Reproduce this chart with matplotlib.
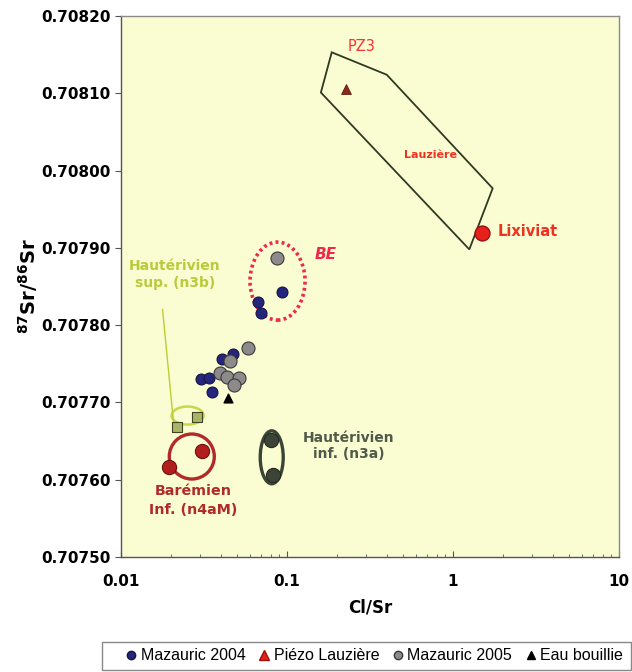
import numpy as np
import matplotlib
matplotlib.use("Agg")
import matplotlib.pyplot as plt
import matplotlib.transforms as mtransforms
from matplotlib.patches import Ellipse, Polygon, Rectangle
from matplotlib.lines import Line2D

# ---- data ----
maz2004_x = [0.0929, 0.0671, 0.0694, 0.0475, 0.0404, 0.0302, 0.0340, 0.0352]
maz2004_y = [0.707843, 0.707830, 0.707816, 0.707763, 0.707756, 0.707730, 0.707731, 0.707714]

maz2005_x = [0.0874, 0.0584, 0.0454, 0.0395, 0.0433, 0.0516, 0.0480]
maz2005_y = [0.707887, 0.707771, 0.707753, 0.707738, 0.707733, 0.707731, 0.707723]

eau_x = [0.0443]
eau_y = [0.707706]

pz3_x = [0.2267]
pz3_y = [0.708106]

lixiviat_x = [1.489]
lixiviat_y = [0.707919]

n3b_x = [0.0217, 0.0286]
n3b_y = [0.707668, 0.707681]

n4am_x = [0.0195, 0.0306]
n4am_y = [0.707616, 0.707637]

n3a_x = [0.0798, 0.0820]
n3a_y = [0.707652, 0.707606]

lauziere_x = [0.186, 0.399, 1.734, 1.254, 0.160]
lauziere_y = [0.708153, 0.708124, 0.707977, 0.707898, 0.708101]

yticks = [0.70750, 0.70760, 0.70770, 0.70780, 0.70790, 0.70800, 0.70810, 0.70820]
xticks = [0.01, 0.1, 1, 10]
xticklabels = ["0.01", "0.1", "1", "10"]

fig = plt.figure(figsize=(6.32, 6.72), dpi=100)
ax = fig.add_axes([121 / 632, 1 - 557 / 672, (619 - 121) / 632, (557 - 16) / 672])
ax.set_facecolor("#FAFCD2")
ax.set_xscale("log")
ax.set_xlim(0.01, 10)
ax.set_ylim(0.70750, 0.70820)


def ring(xc, yc, w, h, **kw):
    # ellipse centred on a data point, size in pixels
    tr = fig.dpi_scale_trans + mtransforms.ScaledTranslation(xc, yc, ax.transData)
    e = Ellipse((0, 0), w / 100, h / 100, transform=tr, fill=False, **kw)
    ax.add_patch(e)


# Lauziere polygon
ax.add_patch(Polygon(np.column_stack([lauziere_x, lauziere_y]), closed=True,
                     fill=False, edgecolor="#2E3A22", lw=1.3, zorder=2))

# group outlines
ring(0.0877, 0.707857, 55, 78, edgecolor="#F0284A", lw=2.6, ls=(0, (0.8, 0.9)), zorder=2)
ring(0.0252, 0.707683, 32, 18, edgecolor="#C6D84A", lw=1.8, zorder=2)
ring(0.0267, 0.707630, 45, 45, edgecolor="#B02A2A", lw=2.4, zorder=2)
ring(0.0809, 0.707629, 23, 53, edgecolor="#3A4535", lw=2.4, zorder=2)

ax.plot([0.0178, 0.0207], [0.707820, 0.707675], color="#B8D030", lw=1, zorder=2)

# points
ax.scatter(n4am_x, n4am_y, s=105, c="#B21E1E", edgecolors="#6E1010", lw=0.8, zorder=3)
ax.scatter(n3a_x, n3a_y, s=105, c="#3B4437", edgecolors="#232A20", lw=0.8, zorder=3)
ax.scatter(n3b_x, n3b_y, s=45, marker="s", c="#A9B468", edgecolors="#3E4420", lw=0.8, zorder=3)
ax.scatter(maz2004_x, maz2004_y, s=62, c="#25257E", edgecolors="#15153E", lw=0.8, zorder=3)
ax.scatter(maz2005_x, maz2005_y, s=88, c="#8C8A8A", edgecolors="#3A3A3A", lw=0.8, zorder=4)
ax.scatter(eau_x, eau_y, s=40, marker="^", c="black", zorder=4)
ax.scatter(pz3_x, pz3_y, s=50, marker="^", c="#8E2A18", edgecolors="#5A1A10", lw=0.6, zorder=3)
ax.scatter(lixiviat_x, lixiviat_y, s=115, c="#E8201A", edgecolors="#9A1010", lw=1, zorder=3)

# labels
ax.text(0.282, 0.708160, "PZ3", color="#FF3030", fontsize=10.5, ha="center", va="center")
ax.text(0.727, 0.708020, "Lauzière", color="#F03020", fontsize=8, fontweight="bold",
        ha="center", va="center")
ax.text(1.866, 0.707921, "Lixiviat", color="#F03020", fontsize=10.5, fontweight="bold",
        ha="left", va="center")
ax.text(0.1475, 0.707891, "BE", color="#F0284A", fontsize=11, fontweight="bold",
        fontstyle="italic", ha="left", va="center")
ax.text(0.0211, 0.707866, "Hautérivien\nsup. (n3b)", color="#B8CC3A", fontsize=10,
        fontweight="bold", ha="center", va="center", linespacing=1.25)
ax.text(0.0272, 0.707573, "Barémien\nInf. (n4aM)", color="#B02A2A", fontsize=10.3,
        fontweight="bold", ha="center", va="center", linespacing=1.5)
ax.text(0.2363, 0.707644, "Hautérivien\ninf. (n3a)", color="#4F5A4A", fontsize=10,
        fontweight="bold", ha="center", va="center", linespacing=1.2)

# axes styling
ax.set_xticks(xticks)
ax.set_xticklabels(xticklabels)
ax.set_yticks(yticks)
ax.set_yticklabels(["%.5f" % v for v in yticks])
for lab in ax.get_xticklabels() + ax.get_yticklabels():
    lab.set_fontweight("bold")
    lab.set_fontsize(11)
ax.tick_params(axis="x", which="both", direction="in", length=4, pad=12, color="#555555")
ax.tick_params(axis="x", which="minor", length=2.5)
ax.tick_params(axis="y", which="major", direction="out", length=4, color="#555555")
for side, s in ax.spines.items():
    s.set_color("#555555" if side in ("left", "bottom") else "#8A8A8A")
    s.set_linewidth(1)

ax.set_xlabel("Cl/Sr", fontsize=12, fontweight="bold", labelpad=7)
ax.set_ylabel(r"$^{\bf 87}$Sr/$^{\bf 86}$Sr", fontsize=14, fontweight="bold", labelpad=1)

# legend box below the plot
fig.patches.append(Rectangle((102 / 632, 1 - 670 / 672), (631 - 102) / 632, 28 / 672,
                             transform=fig.transFigure, fill=False,
                             edgecolor="#888888", lw=1))
handles = [
    Line2D([], [], ls="", marker="o", ms=6, color="#25257E", mec="#15153E"),
    Line2D([], [], ls="", marker="^", ms=7, color="#E8201A", mec="#9A1010"),
    Line2D([], [], ls="", marker="o", ms=6, color="#8C8A8A", mec="#3A3A3A"),
    Line2D([], [], ls="", marker="^", ms=6, color="black"),
]
labels = ["Mazauric 2004", "Piézo Lauzière", "Mazauric 2005", "Eau bouillie"]
leg = fig.legend(handles, labels, loc="center", bbox_to_anchor=(374 / 632, 1 - 656 / 672),
                 ncol=4, frameon=False, handlelength=0.8, handletextpad=0.2,
                 columnspacing=0.75, borderpad=0.3,
                 prop={"family": "Liberation Sans", "size": 11.5})

fig.savefig("out.png", dpi=100)
